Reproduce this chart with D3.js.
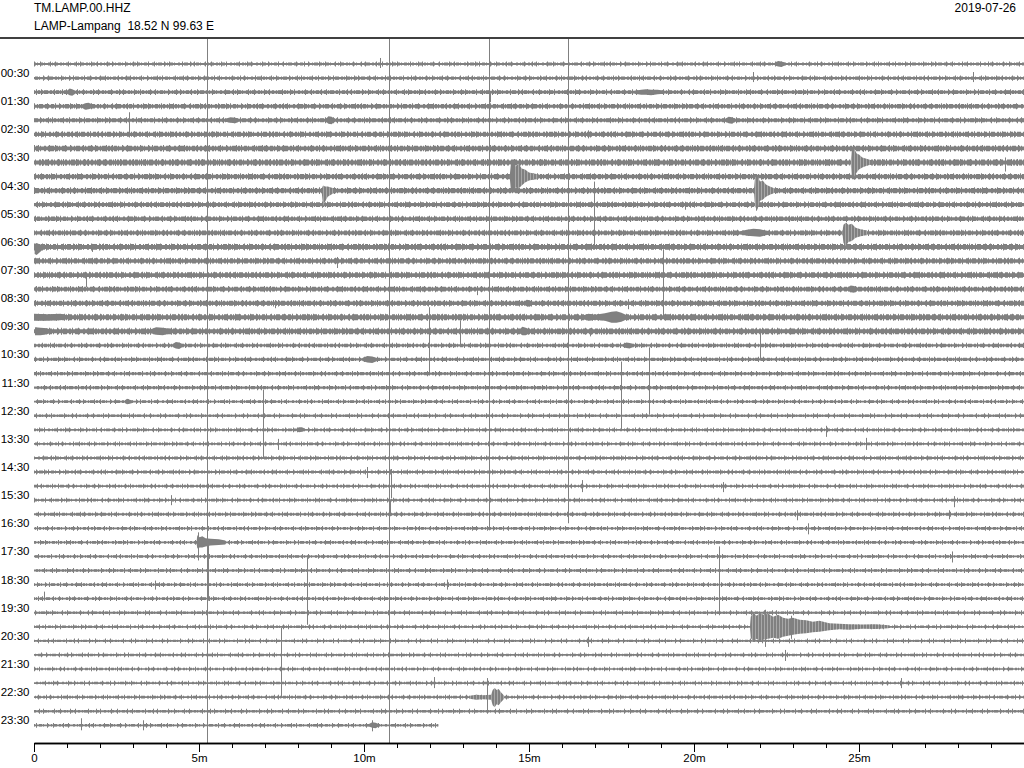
<!DOCTYPE html>
<html>
<head>
<meta charset="utf-8">
<script src="https://cdn.jsdelivr.net/npm/d3@7"></script>
<style>
body { margin: 0; background: #fff; }
svg { display: block; font-family: "Liberation Sans", Arial, sans-serif; }
</style>
</head>
<body>
<svg id="heli"></svg>
<script>
// station header
var station = "TM.LAMP.00.HHZ";
var stationInfo = "LAMP-Lampang  18.52 N 99.63 E";
var dayLabel = "2019-07-26";

// one trace every 30 min, label on every second one
var rowLabels = ["00:30","01:30","02:30","03:30","04:30","05:30","06:30","07:30",
    "08:30","09:30","10:30","11:30","12:30","13:30","14:30","15:30",
    "16:30","17:30","18:30","19:30","20:30","21:30","22:30","23:30"];
var minuteTicks = [0,1,2,3,4,5,6,7,8,9,10,11,12,13,14,15,16,17,18,19,20,21,22,23,24,25,26,27,28,29];
var majorTicks = [0,5,10,15,20,25];
var majorTickLabels = ["0","5m","10m","15m","20m","25m"];

// background noise, peak to peak (counts), per trace
var noiseLevel = [200,220,260,300,280,340,380,400,360,360,320,320,320,400,360,380,340,340,400,400,240,220,220,220,
    180,180,180,180,200,200,180,180,200,180,180,180,180,180,180,180,170,170,170,170,170,180,180,180];
// last trace stops here (minutes)
var lastTraceEnd = 12.25;

// events: envelope [minute, up, down] in counts
var events = [
    {trace: 0,  env: [[22.45,150,150],[22.55,300,250],[22.65,250,300],[22.75,150,150]]},
    {trace: 2,  env: [[1.0,150,150],[1.08,350,300],[1.16,300,350],[1.25,150,150]]},
    {trace: 2,  env: [[18.2,150,150],[18.4,250,250],[18.55,300,250],[18.7,250,300],[18.9,250,200],[19.1,150,150]]},
    {trace: 3,  env: [[1.45,150,150],[1.55,300,350],[1.65,350,300],[1.8,150,150]]},
    {trace: 4,  env: [[5.8,150,150],[5.95,300,250],[6.1,250,300],[6.2,150,150]]},
    {trace: 4,  env: [[8.85,150,150],[8.92,400,350],[9.02,350,400],[9.1,150,150]]},
    {trace: 4,  env: [[20.95,150,150],[21.05,350,300],[21.15,300,350],[21.25,150,150]]},
    {trace: 7,  env: [[24.75,200,200],[24.78,1200,1300],[24.85,1400,1400],[24.93,900,1000],[25.0,800,700],[25.1,500,500],[25.25,350,300],[25.4,200,200]]},
    {trace: 8,  env: [[14.42,200,200],[14.45,1200,1300],[14.52,1500,1500],[14.6,1000,1100],[14.68,1300,1200],[14.78,800,900],[14.88,700,600],[15.0,400,400],[15.15,300,300],[15.3,200,200]]},
    {trace: 9,  env: [[8.72,200,200],[8.76,500,1500],[8.82,400,1100],[8.9,400,600],[9.1,200,200]]},
    {trace: 9,  env: [[21.82,200,200],[21.85,1300,1600],[21.92,1500,1900],[22.0,900,1000],[22.08,1000,900],[22.18,600,600],[22.3,400,400],[22.45,200,200]]},
    {trace: 12, env: [[21.4,150,150],[21.6,300,300],[21.8,400,350],[22.0,350,400],[22.3,150,150]]},
    {trace: 12, env: [[24.5,200,200],[24.53,800,1000],[24.6,1000,1300],[24.68,800,900],[24.78,900,800],[24.9,500,500],[25.05,350,350],[25.25,200,200]]},
    {trace: 13, env: [[0.02,300,700],[0.08,400,800],[0.15,300,600],[0.3,150,150]]},
    {trace: 16, env: [[24.65,150,150],[24.75,350,300],[24.85,300,350],[24.95,150,150]]},
    {trace: 17, env: [[14.85,150,150],[14.93,350,300],[15.02,300,350],[15.1,150,150]]},
    {trace: 18, env: [[0,350,350],[0.4,300,350],[0.8,350,300],[1.1,150,150]]},
    {trace: 18, env: [[16.6,150,150],[16.8,350,350],[17.0,250,250],[17.3,400,350],[17.5,550,550],[17.65,600,550],[17.8,450,450],[18.0,150,150]]},
    {trace: 19, env: [[0.03,400,400],[0.2,350,400],[0.4,300,300],[0.5,150,150]]},
    {trace: 19, env: [[3.5,150,150],[3.7,400,350],[3.9,350,400],[4.1,250,250],[4.2,150,150]]},
    {trace: 19, env: [[14.7,150,150],[14.8,450,400],[14.9,350,400],[15.05,150,150]]},
    {trace: 20, env: [[4.2,150,150],[4.3,350,300],[4.4,300,350],[4.5,150,150]]},
    {trace: 20, env: [[17.85,150,150],[17.95,300,250],[18.05,250,300],[18.15,150,150]]},
    {trace: 21, env: [[9.95,150,150],[10.1,350,300],[10.25,300,350],[10.4,150,150]]},
    {trace: 24, env: [[2.75,120,120],[2.82,300,250],[2.9,200,200],[2.98,120,120]]},
    {trace: 26, env: [[7.95,120,120],[8.03,250,250],[8.12,250,200],[8.2,120,120]]},
    {trace: 34, env: [[4.93,200,200],[4.95,700,600],[5.02,500,500],[5.1,600,500],[5.2,400,400],[5.35,350,300],[5.6,300,250],[5.8,200,200]]},
    {trace: 40, env: [[21.70,200,200],[21.72,1000,1100],[21.8,1400,1500],[21.9,1100,1200],[22.0,1400,1400],[22.1,1200,1300],[22.25,1300,1200],[22.4,1000,1100],[22.55,1200,1200],[22.7,900,1000],[22.85,800,900],[23.0,900,800],[23.2,700,700],[23.4,650,650],[23.6,500,550],[23.8,600,500],[24.1,350,350],[24.4,300,250],[24.7,250,300],[25.1,220,200],[25.5,250,220],[25.9,150,150]]},
    {trace: 45, env: [[13.2,150,150],[13.4,250,250],[13.6,200,200],[13.85,250,250],[13.9,700,800],[13.96,900,1000],[14.02,700,700],[14.08,800,800],[14.15,500,500],[14.25,150,150]]},
    {trace: 47, env: [[10.15,120,120],[10.25,300,250],[10.35,250,300],[10.45,120,120]]}
];

// glitches / spikes: minute, up, down in counts
var spikes = [
    {trace: 34, t: 5.25,  up: 51000, down: 20500},
    {trace: 34, t: 5.28,  up: 0,     down: 5800},
    {trace: 34, t: 4.96,  up: 1000,  down: 1800},
    {trace: 31, t: 10.77, up: 47000, down: 25000},
    {trace: 30, t: 10.83, up: 1700,  down: 1200},
    {trace: 31, t: 10.80, up: 0,     down: 1600},
    {trace: 33, t: 13.80, up: 49500, down: 200},
    {trace: 32, t: 16.19, up: 48000, down: 900},
    {trace: 0,  t: 10.49, up: 600,  down: 400},
    {trace: 1,  t: 21.79, up: 600,  down: 400},
    {trace: 1,  t: 28.45, up: 600,  down: 400},
    {trace: 2,  t: 13.81, up: 0,    down: 1000},
    {trace: 4,  t: 2.89,  up: 800,  down: 1400},
    {trace: 5,  t: 16.79, up: 400,  down: 400},
    {trace: 7,  t: 29.42, up: 500,  down: 900},
    {trace: 7,  t: 24.80, up: 1400, down: 1500},
    {trace: 8,  t: 14.47, up: 1700, down: 1600},
    {trace: 9,  t: 21.88, up: 1600, down: 2000},
    {trace: 10, t: 19.73, up: 300,  down: 500},
    {trace: 11, t: 16.97, up: 3700, down: 2900},
    {trace: 12, t: 24.60, up: 1000, down: 1400},
    {trace: 13, t: 1.76,  up: 300,  down: 500},
    {trace: 14, t: 9.18,  up: 400,  down: 700},
    {trace: 15, t: 1.58,  up: 200,  down: 1200},
    {trace: 16, t: 19.06, up: 3900, down: 2800},
    {trace: 16, t: 13.42, up: 200,  down: 600},
    {trace: 17, t: 7.30,  up: 300,  down: 500},
    {trace: 17, t: 18.00, up: 400,  down: 600},
    {trace: 19, t: 12.91, up: 1100, down: 1400},
    {trace: 19, t: 16.85, up: 300,  down: 500},
    {trace: 20, t: 11.98, up: 3800, down: 3000},
    {trace: 20, t: 22.00, up: 1300, down: 1500},
    {trace: 23, t: 18.64, up: 4000, down: 2700},
    {trace: 25, t: 17.79, up: 5400, down: 1400},
    {trace: 26, t: 6.95,  up: 4000, down: 2800},
    {trace: 26, t: 24.00, up: 400,  down: 700},
    {trace: 27, t: 25.21, up: 600,  down: 600},
    {trace: 27, t: 7.39,  up: 500,  down: 600},
    {trace: 29, t: 10.09, up: 500,  down: 600},
    {trace: 31, t: 4.15,  up: 500,  down: 500},
    {trace: 30, t: 16.60, up: 600,  down: 600},
    {trace: 30, t: 20.88, up: 400,  down: 600},
    {trace: 31, t: 27.88, up: 400,  down: 700},
    {trace: 32, t: 23.12, up: 400,  down: 600},
    {trace: 32, t: 27.73, up: 400,  down: 500},
    {trace: 33, t: 23.45, up: 500,  down: 600},
    {trace: 35, t: 27.82, up: 500,  down: 600},
    {trace: 37, t: 20.76, up: 3800, down: 2700},
    {trace: 37, t: 8.27,  up: 2700, down: 4000},
    {trace: 37, t: 3.67,  up: 400,  down: 500},
    {trace: 37, t: 12.52, up: 500,  down: 500},
    {trace: 38, t: 0.30,  up: 700,  down: 200},
    {trace: 40, t: 22.15, up: 1700, down: 2000},
    {trace: 40, t: 22.95, up: 1100, down: 1200},
    {trace: 41, t: 16.79, up: 400,  down: 600},
    {trace: 42, t: 22.76, up: 500,  down: 600},
    {trace: 42, t: 7.48,  up: 2700, down: 4300},
    {trace: 44, t: 12.12, up: 600,  down: 500},
    {trace: 44, t: 26.27, up: 500,  down: 500},
    {trace: 45, t: 13.73, up: 1900, down: 1500},
    {trace: 47, t: 1.42,  up: 700,  down: 500},
    {trace: 47, t: 3.30,  up: 500,  down: 500},
    {trace: 47, t: 10.24, up: 500,  down: 600}
];

var W = 1024, H = 768;
var col = "#808080";

var svg = d3.select("#heli").attr("width", W).attr("height", H);

var x = d3.scaleLinear().domain([0, 30]).range([34, 1024]);
var y = d3.scaleLinear().domain([0, noiseLevel.length - 1]).range([64, 725.3]);
var gap = y(1) - y(0);
var amp = d3.scaleLinear().domain([0, 1400]).range([0, gap]);

// vertical streaks inside the bigger wave packets
var defs = svg.append("defs");
var hatch = defs.append("pattern").attr("id", "streak")
    .attr("width", 3).attr("height", 4).attr("patternUnits", "userSpaceOnUse");
hatch.append("rect").attr("width", 3).attr("height", 4).attr("fill", col);
hatch.append("rect").attr("x", 2).attr("width", 0.7).attr("height", 4)
    .attr("fill", "#fff").attr("opacity", 0.45);

// header
svg.append("text").attr("x", 34).attr("y", 12).attr("font-size", "12px").text(station);
svg.append("text").attr("x", 34).attr("y", 30).attr("font-size", "12px")
    .style("white-space", "pre").text(stationInfo);
svg.append("text").attr("x", 1016).attr("y", 12).attr("font-size", "12px")
    .attr("text-anchor", "end").text(dayLabel);

svg.append("line").attr("x1", 0).attr("x2", W).attr("y1", 38).attr("y2", 38)
    .attr("stroke", "#000").attr("stroke-width", 1.5);

defs.append("clipPath").attr("id", "plotclip").append("rect")
    .attr("x", 0).attr("y", 39).attr("width", W).attr("height", 743 - 39);

var plot = svg.append("g").attr("clip-path", "url(#plotclip)");

// traces
var traces = noiseLevel.map(function(n, i) {
    return {i: i, noise: n, end: i === noiseLevel.length - 1 ? lastTraceEnd : 30};
});

function traceLine(cls, widthFn, dash, offsetStep) {
    var sel = plot.selectAll("." + cls)
        .data(traces)
        .enter()
        .append("line")
        .attr("class", cls)
        .attr("x1", x(0))
        .attr("x2", function(d) { return x(d.end); })
        .attr("y1", function(d) { return y(d.i); })
        .attr("y2", function(d) { return y(d.i); })
        .attr("stroke", col)
        .attr("stroke-width", widthFn);
    if (dash) {
        sel.attr("stroke-dasharray", dash)
            .attr("stroke-dashoffset", function(d) { return d.i * offsetStep; });
    }
}

// core band, ragged edge, then taller ticks
traceLine("band", function(d) { return amp(d.noise); }, null, 0);
traceLine("rag", function(d) { return amp(d.noise) * 1.45; }, "2,1,1,2,3,1,1,3,2,2,1,1,4,2", 5);
traceLine("tick", function(d) { return amp(d.noise) + 3; }, "1,5,1,9,1,4,1,12,1,7,1,3,1,10", 7);

// events
var area = d3.area()
    .x(function(d) { return x(d[0]); });

plot.selectAll(".event")
    .data(events)
    .enter()
    .append("path")
    .attr("class", "event")
    .attr("fill", function(ev) {
        var peak = d3.max(ev.env, function(d) { return d[1] + d[2]; });
        return peak > 1500 ? "url(#streak)" : col;
    })
    .attr("d", function(ev) {
        var yc = y(ev.trace);
        return area
            .y0(function(d) { return yc + amp(d[2]); })
            .y1(function(d) { return yc - amp(d[1]); })(ev.env);
    });

// spikes
plot.selectAll(".spike")
    .data(spikes)
    .enter()
    .append("line")
    .attr("class", "spike")
    .attr("x1", function(d) { return Math.round(x(d.t)) + 0.5; })
    .attr("x2", function(d) { return Math.round(x(d.t)) + 0.5; })
    .attr("y1", function(d) { return y(d.trace) - amp(d.up); })
    .attr("y2", function(d) { return y(d.trace) + amp(d.down); })
    .attr("stroke", col)
    .attr("stroke-width", 1);

// row labels (odd traces)
svg.selectAll(".rowlab")
    .data(rowLabels)
    .enter()
    .append("text")
    .attr("class", "rowlab")
    .attr("x", 29.5)
    .attr("y", function(d, k) { return y(2 * k + 1) - 1; })
    .attr("text-anchor", "end")
    .attr("font-size", "11.5px")
    .text(function(d) { return d; });

// time axis
var axisY = 743;
var minorAxis = d3.axisBottom(x).tickValues(minuteTicks).tickSize(5).tickSizeOuter(0).tickFormat("");
var majorAxis = d3.axisBottom(x).tickValues(majorTicks).tickSize(9).tickSizeOuter(0)
    .tickFormat(function(d, k) { return majorTickLabels[k]; });

svg.append("g").attr("transform", "translate(0," + axisY + ")").call(minorAxis);
var gMajor = svg.append("g").attr("transform", "translate(0," + axisY + ")").call(majorAxis);
gMajor.selectAll("text").attr("font-size", "11.5px").attr("fill", "#000")
    .attr("font-family", "'Liberation Sans', Arial, sans-serif").attr("dy", "0.6em");
svg.selectAll(".domain").attr("stroke-width", 1.5);
</script>
</body>
</html>
